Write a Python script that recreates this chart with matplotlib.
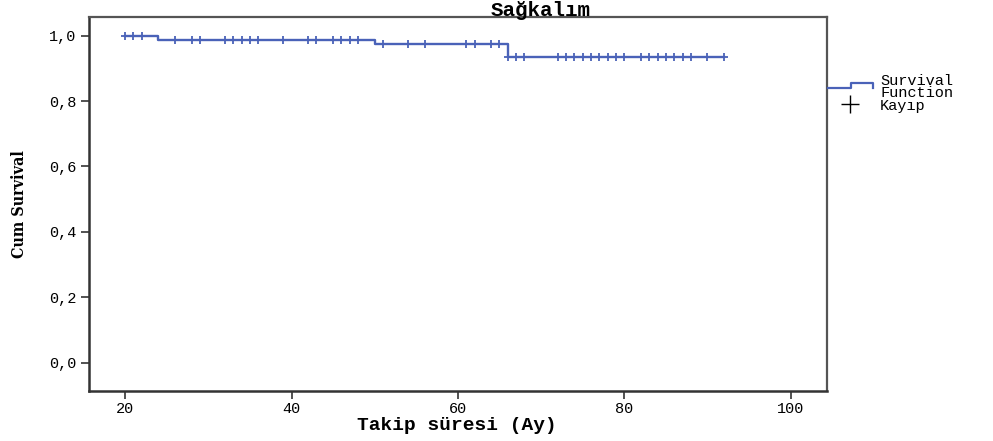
import matplotlib
matplotlib.use("Agg")
import matplotlib.pyplot as plt
from matplotlib.lines import Line2D

# Kaplan-Meier steps: times where the curve drops and the level after each drop
start_time = 20
end_time = 92
event_times = [24, 50, 66]
levels = [1.0, 0.988, 0.974, 0.936]

# censored observations (Kayıp), months
censored = [20, 21, 22,
            26, 28, 29, 32, 33, 34, 35, 36, 39, 42, 43, 45, 46, 47, 48,
            51, 54, 56, 61, 62, 64, 65,
            66, 67, 68, 72, 73, 74, 75, 76, 77, 78, 79, 80,
            82, 83, 84, 85, 86, 87, 88, 90, 92]

xticks = [20, 40, 60, 80, 100]
yticks = [0.0, 0.2, 0.4, 0.6, 0.8, 1.0]
ytick_labels = ["0,0", "0,2", "0,4", "0,6", "0,8", "1,0"]

blue = "#4a62b8"
mono = ["Liberation Mono", "DejaVu Sans Mono"]

# build step coordinates
xs = [start_time]
ys = [levels[0]]
for t, lv in zip(event_times, levels[1:]):
    xs += [t, t]
    ys += [ys[-1], lv]
xs.append(end_time)
ys.append(levels[-1])


def level_at(t):
    lv = levels[0]
    for et, l in zip(event_times, levels[1:]):
        if t >= et:
            lv = l
    return lv


cy = [level_at(t) for t in censored]

W, H = 993, 441
fig = plt.figure(figsize=(W / 100, H / 100), dpi=100)
ax = fig.add_axes([88.5 / W, 1 - 391 / H, (827.3 - 88.5) / W, (391 - 17) / H])

ax.plot(xs, ys, color=blue, lw=1.7)
ax.plot(censored, cy, ls="none", marker="+", ms=6, mew=1.3, color=blue)

ax.set_xlim(15.6, 104.4)
ax.set_ylim(-0.087, 1.057)
ax.set_xticks(xticks)
ax.set_xticklabels([str(v) for v in xticks], family=mono, fontsize=11)
ax.set_yticks(yticks)
ax.set_yticklabels(ytick_labels, family=mono, fontsize=11)
ax.tick_params(axis="both", length=6, width=1.2, color="#333333", pad=3)
ax.tick_params(axis="x", pad=2)

for side in ["left", "bottom"]:
    ax.spines[side].set_linewidth(1.8)
    ax.spines[side].set_color("#333333")
for side in ["top", "right"]:
    ax.spines[side].set_linewidth(1.6)
    ax.spines[side].set_color("#555555")


def fx(px):
    return px / W


def fy(py):
    return 1 - py / H


fig.text(fx(457), fy(426), "Takip süresi (Ay)", family=mono, fontsize=14,
         fontweight="bold", ha="center", va="center")
fig.text(fx(20), fy(204), "Cum Survival", family="DejaVu Serif",
         fontstretch="condensed", fontweight="bold", fontsize=11.5,
         rotation=90, ha="center", va="center")
fig.text(fx(541), fy(11), "Sağkalım", family=mono, fontsize=15,
         fontweight="bold", ha="center", va="center")

# legend outside the plot on the right, drawn in figure pixels
fig.add_artist(Line2D([fx(828), fx(851), fx(851), fx(873), fx(873)],
                      [fy(88), fy(88), fy(83), fy(83), fy(88)],
                      color=blue, lw=1.6))
fig.text(fx(880), fy(87), "Survival\nFunction", family=mono, fontsize=11,
         ha="left", va="center", linespacing=0.8)
fig.add_artist(Line2D([fx(850)], [fy(104)], ls="none", marker="+", ms=13,
                      mew=1.0, color="black"))
fig.text(fx(880), fy(106), "Kayıp", family=mono, fontsize=11,
         ha="left", va="center")

fig.savefig("out.png", dpi=100)
